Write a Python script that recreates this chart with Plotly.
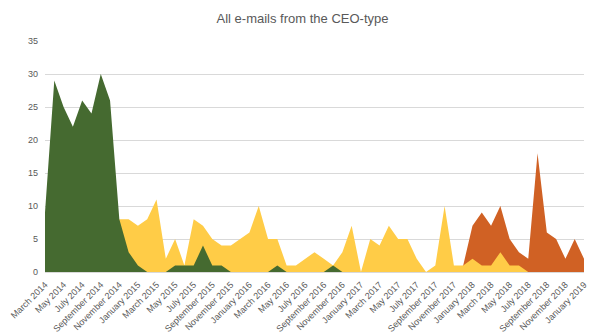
import plotly.graph_objects as go

months = ["January", "February", "March", "April", "May", "June", "July",
          "August", "September", "October", "November", "December"]
categories = []
m, y = 2, 2014
for _ in range(59):
    categories.append(f"{months[m]} {y}")
    m += 1
    if m == 12:
        m, y = 0, y + 1

green = [9, 29, 25, 22, 26, 24, 30, 26, 8, 3, 1, 0, 0, 0, 1, 1, 1, 4, 1, 1,
         0, 0, 0, 0, 0, 1, 0, 0, 0, 0, 0, 1, 0, 0, 0, 0, 0, 0, 0, 0,
         0, 0, 0, 0, 0, 0, 0, 0, 0, 0, 0, 0, 0, 0, 0, 0, 0, 0, 0]
yellow = [0, 0, 0, 0, 0, 0, 0, 0, 8, 8, 7, 8, 11, 2, 5, 1, 8, 7, 5, 4,
          4, 5, 6, 10, 5, 5, 1, 1, 2, 3, 2, 1, 3, 7, 0, 5, 4, 7, 5, 5,
          2, 0, 1, 10, 1, 1, 2, 1, 1, 3, 1, 1, 0, 0, 0, 0, 0, 0, 0]
orange = [0] * 45 + [1, 7, 9, 7, 10, 5, 3, 2, 18, 6, 5, 2, 5, 2]

x = list(range(len(categories)))

fig = go.Figure()
for vals, col in [(orange, "#D06124"), (yellow, "#FFCC47"), (green, "#456A30")]:
    fig.add_trace(go.Scatter(x=x, y=vals, mode="lines", fill="tozeroy",
                             line=dict(width=0, color=col), fillcolor=col,
                             hoverinfo="skip", showlegend=False))

fig.update_layout(
    width=605, height=335,
    margin=dict(l=45, r=21, t=41, b=63),
    paper_bgcolor="white", plot_bgcolor="white",
    title=dict(text="All e-mails from the CEO-type", x=0.5, xanchor="center",
               y=0.945, yanchor="middle",
               font=dict(family="Liberation Sans, Arial", size=13, color="#595959")),
    font=dict(family="Liberation Sans, Arial", size=9, color="#595959"),
    xaxis=dict(range=[0, 58], tickvals=x[::2], ticktext=categories[::2],
               tickangle=-45, showgrid=False, zeroline=False,
               showline=True, linecolor="#d9d9d9", ticks="", automargin=False,
               ticklabelstandoff=3,
               tickfont=dict(size=9, color="#595959")),
    yaxis=dict(range=[0, 35], dtick=5, showgrid=True, gridcolor="#d9d9d9",
               zeroline=False, ticks="", automargin=False,
               ticklabelstandoff=6,
               tickfont=dict(size=9, color="#595959")),
)

fig.write_html("out.html")
